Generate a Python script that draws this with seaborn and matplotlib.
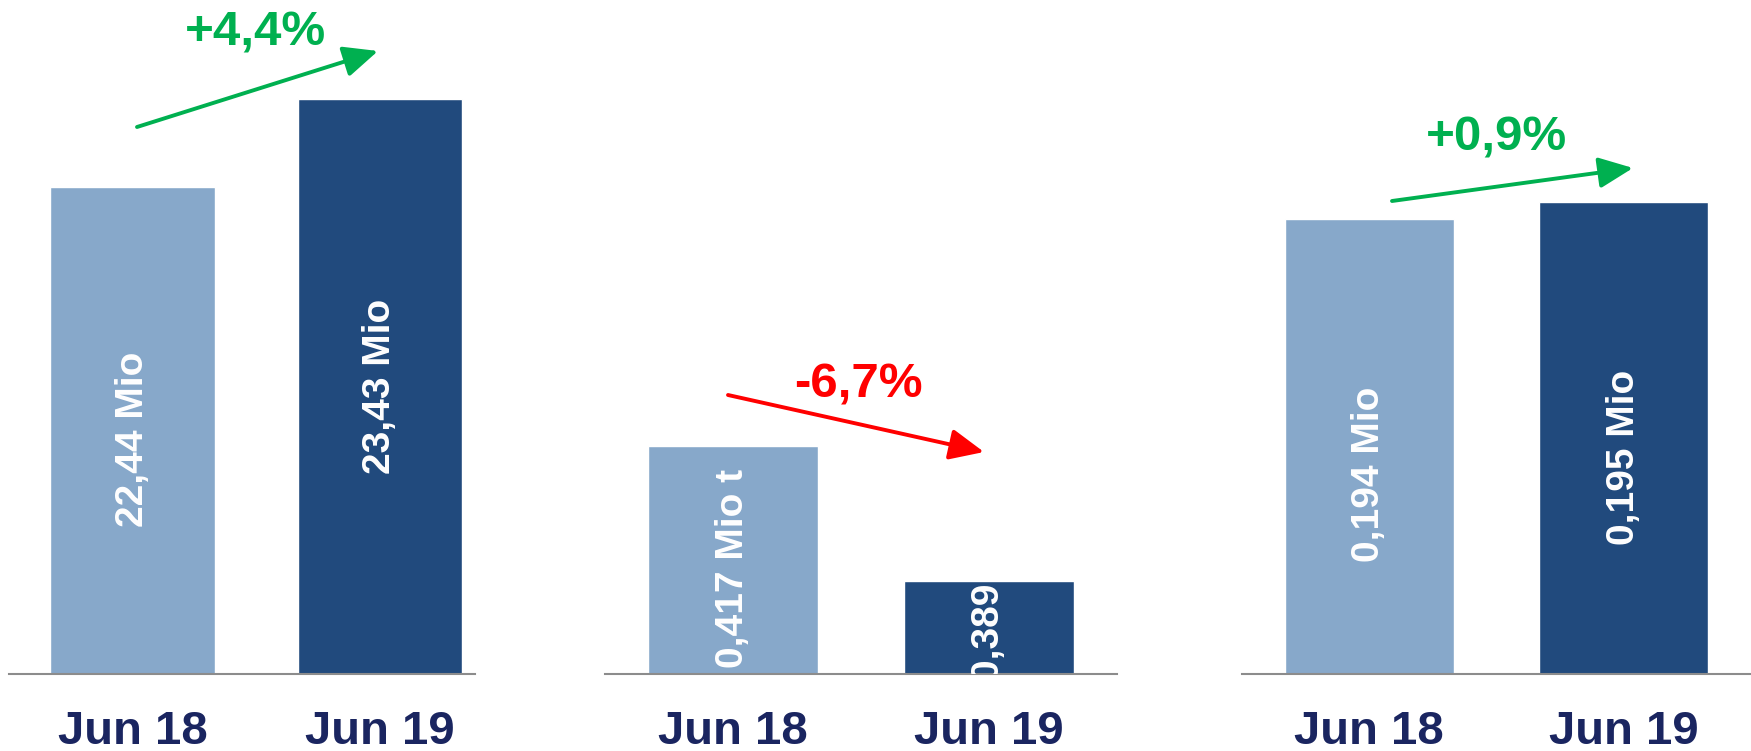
import numpy as np
import pandas as pd
import seaborn as sns
import matplotlib.pyplot as plt
import matplotlib.transforms as mtransforms

sns.set_style('white')
plt.rcParams['font.family'] = ['Liberation Sans', 'DejaVu Sans']

# data
periods = ['Jun 18', 'Jun 19']
values_1 = [22.44, 23.43]
values_2 = [0.417, 0.389]
values_3 = [0.194, 0.195]
labels_1 = ['22,44 Mio', '23,43 Mio']
labels_2 = ['0,417 Mio t', '0,389 Mio t']
labels_3 = ['0,194 Mio', '0,195 Mio']
changes = ['+4,4%', '-6,7%', '+0,9%']

light = '#87A8CA'
dark = '#214A7D'
navy = '#1A2560'
green = '#00B050'
red = '#FF0000'

W, H = 1751, 751
fig = plt.figure(figsize=(W / 100, H / 100), dpi=100)

# panel layout in pixels: left, right, xlim, ylim, label anchoring / shifts (px)
panels = [
    dict(vals=values_1, labels=labels_1, left=9, right=475, xlim=(-0.5, 1.384),
         ylim=(16.97, 24.54), anchor='center', shift=[-9, 0], change=changes[0], col=green,
         arrow=((137, 127), (378, 51)), text=(255, 33)),
    dict(vals=values_2, labels=labels_2, left=605, right=1117, xlim=(-0.5, 1.5),
         ylim=(0.3698, 0.5096), anchor='base', shift=[6, -7], change=changes[1], col=red,
         arrow=((728, 395), (984, 452)), text=(858, 385)),
    dict(vals=values_3, labels=labels_3, left=1242, right=1751, xlim=(-0.5, 1.5),
         ylim=(0.1669, 0.2070), anchor='center', shift=[-28, -20], change=changes[2], col=green,
         arrow=((1392, 201), (1633, 168)), text=(1496, 138)),
]

base_px = 77
for p in panels:
    ax = fig.add_axes([p['left'] / W, base_px / H, (p['right'] - p['left']) / W, (H - base_px) / H])
    df = pd.DataFrame({'period': periods, 'value': p['vals']})
    sns.barplot(data=df, x='period', y='value', hue='period', palette=[light, dark],
                width=0.665, legend=False, ax=ax, saturation=1)
    ax.set_xlim(*p['xlim'])
    ax.set_ylim(*p['ylim'])
    ax.set_yticks([])
    ax.set_xlabel('')
    ax.set_ylabel('')
    for s in ['top', 'left', 'right']:
        ax.spines[s].set_visible(False)
    ax.spines['bottom'].set_color('#8C8C8C')
    ax.spines['bottom'].set_linewidth(1.5)
    ax.tick_params(axis='x', length=0, pad=26, labelsize=34, labelcolor=navy)
    for t in ax.get_xticklabels():
        t.set_fontweight('bold')

    y0 = p['ylim'][0]
    for bar, lab, sh in zip(ax.patches, p['labels'], p['shift']):
        cx = bar.get_x() + bar.get_width() / 2
        tr = mtransforms.offset_copy(ax.transData, fig=fig, x=0, y=sh, units='dots')
        if p['anchor'] == 'center':
            ax.text(cx, (y0 + bar.get_height()) / 2, lab, rotation=90, ha='center', va='center',
                    transform=tr, color='white', fontsize=28, fontweight='bold', clip_on=True)
        else:
            ax.text(cx, y0, lab, rotation=90, ha='center', va='bottom', transform=tr,
                    color='white', fontsize=28, fontweight='bold', clip_on=True)

    (x0, y0p), (x1, y1p) = p['arrow']
    ax.annotate('', xy=(x1 / W, 1 - y1p / H), xytext=(x0 / W, 1 - y0p / H),
                xycoords='figure fraction', textcoords='figure fraction', annotation_clip=False,
                arrowprops=dict(arrowstyle='-|>,head_length=1.0,head_width=0.45', mutation_scale=21,
                                color=p['col'], lw=2.8, shrinkA=0, shrinkB=0))
    fig.text(p['text'][0] / W, 1 - p['text'][1] / H, p['change'], ha='center', va='center',
             color=p['col'], fontsize=35.5, fontweight='bold')

fig.savefig('out.png', dpi=100)
